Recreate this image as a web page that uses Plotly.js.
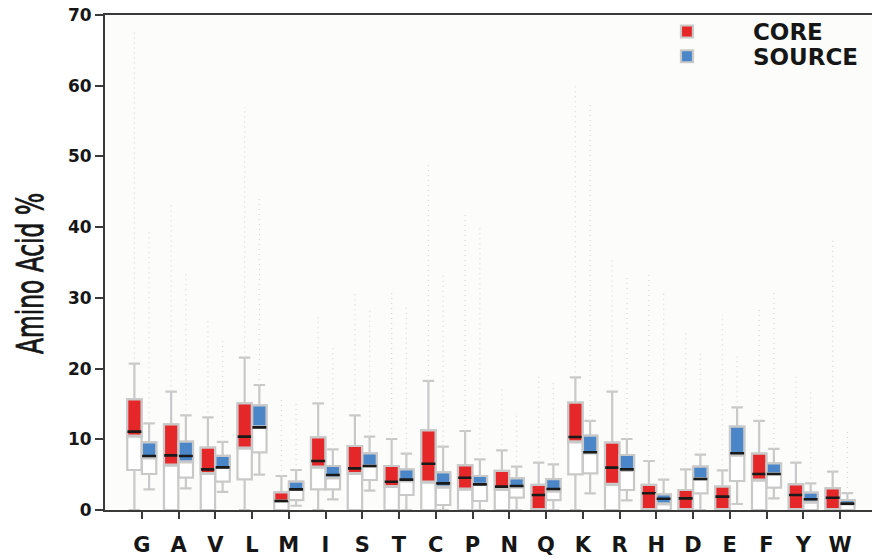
<!DOCTYPE html>
<html>
<head>
<meta charset="utf-8">
<script src="https://cdn.plot.ly/plotly-3.0.1.min.js"></script>
<style>html,body{margin:0;padding:0;background:#fff;}#chart{width:872px;height:559px;}</style>
</head>
<body>
<div id="chart"></div>
<script>
// ---- data (Amino Acid %) ----
const categories = ['G','A','V','L','M','I','S','T','C','P','N','Q','K','R','H','D','E','F','Y','W'];

// CORE series
const coreLowerFence = [0,0,0,0,0,0,0,0,0,0,0,0,0,0,0,0,0,0,0,0];
const coreQ1        = [5.66,0,0,4.34,0,2.92,0,0,0,0,0,0,5.04,0,0,0,0,0,0,0];
const coreFillLow   = [10.37,6.27,5.09,8.67,1.18,5.99,5.09,3.25,3.87,2.88,2.83,0,9.57,3.54,0,0,0,4.15,0,0];
const coreMedian    = [11.08,7.73,5.75,10.37,1.27,6.93,5.89,4.0,6.55,4.57,3.3,2.12,10.33,5.99,2.36,1.65,1.89,5.09,2.12,1.74];
const coreQ3        = [15.65,12.12,8.82,15.09,2.5,10.28,9.05,6.22,11.27,6.32,5.52,3.54,15.18,9.52,3.54,2.83,3.3,7.97,3.63,3.06];
const coreUpperFence= [20.7,16.74,13.1,21.55,4.81,15.09,13.39,10.04,18.25,11.17,8.44,6.69,18.76,16.74,6.93,5.75,5.61,12.59,6.69,5.42];
const coreMax       = [68,43.4,27,57,16,27.3,30.8,30.8,48.8,42.2,17.4,19.4,59.9,35.8,33.4,25.1,27.6,28.7,19.4,38.5];

// SOURCE series
const srcLowerFence = [2.92,3.06,2.55,5.0,0.6,1.5,2.73,0,0,0,0,0,2.36,1.37,0,0,0.85,1.65,0,0];
const srcQ1         = [5.09,4.57,4.0,8.16,1.41,2.92,4.24,2.12,0.71,1.27,1.74,1.41,5.19,2.83,0,2.36,4.1,3.16,0,0];
const srcFillLow    = [7.31,6.74,5.94,11.69,2.83,4.48,6.13,4.05,3.16,3.54,3.16,2.59,8.02,5.52,0.8,4.34,7.69,5.04,1.04,0.8];
const srcMedian     = [7.64,7.64,6.03,11.69,2.92,4.95,6.22,4.29,3.77,3.63,3.39,2.97,8.16,5.75,1.6,4.38,8.02,5.09,1.51,0.9];
const srcQ3         = [9.57,9.67,7.64,14.8,4.0,6.22,8.02,5.75,5.33,4.81,4.48,4.38,10.51,7.78,2.22,6.13,11.79,6.6,2.45,1.41];
const srcUpperFence = [12.26,13.39,9.62,17.68,5.66,8.58,10.37,7.97,8.96,7.17,6.13,6.46,12.59,10.04,4.29,7.83,14.52,8.63,3.77,2.4];
const srcMax        = [39.3,33.4,24,44.5,15,23.2,28.7,28.7,33.4,40,13.7,18,57.3,33.4,30.8,22.2,21.7,30.8,17,11.3];

// ---- styling ----
const RED = '#e5272a', BLUE = '#4a86c8', EDGE = '#c9c9c9';
const OFFSET = 0.2, BOXW = 0.39;

function seriesTraces(name, legendId, color, off, lf, q1, fl, med, q3, uf, mx) {
  const xs = categories.map((c, i) => i + off);
  // faint outlier columns (from upper fence to the highest outlier)
  const ox = [], oy = [];
  xs.forEach((x, i) => { ox.push(x, x, null); oy.push(uf[i], mx[i], null); });
  return [
    {type:'scatter', mode:'lines', x:ox, y:oy, showlegend:false, hoverinfo:'skip',
     line:{color:'#dadada', width:1.3, dash:'1px,4px'}},
    {type:'box', orientation:'v', x:xs, q1:q1, median:med, q3:q3, lowerfence:lf, upperfence:uf,
     width:BOXW, whiskerwidth:0.8, fillcolor:'#ffffff', line:{color:EDGE, width:2.2},
     showlegend:false, hoverinfo:'skip', boxpoints:false},
    {type:'box', orientation:'v', name:name, legend:legendId, x:xs, q1:fl, median:fl, q3:q3, lowerfence:fl, upperfence:q3,
     width:BOXW, whiskerwidth:0.8, fillcolor:color, line:{color:EDGE, width:2.2},
     showlegend:true, hoverinfo:'skip', boxpoints:false},
    {type:'box', orientation:'v', x:xs, q1:med, median:med, q3:med, lowerfence:med, upperfence:med,
     width:BOXW*0.97, whiskerwidth:0, fillcolor:'rgba(0,0,0,0)', line:{color:'#1a1a1a', width:2.6},
     showlegend:false, hoverinfo:'skip', boxpoints:false}
  ];
}

const traces = [].concat(
  seriesTraces('CORE', 'legend', RED, -OFFSET, coreLowerFence, coreQ1, coreFillLow, coreMedian, coreQ3, coreUpperFence, coreMax),
  seriesTraces('SOURCE', 'legend2', BLUE, OFFSET, srcLowerFence, srcQ1, srcFillLow, srcMedian, srcQ3, srcUpperFence, srcMax)
);
const ordered = traces.filter(t => t.type === 'scatter').concat(traces.filter(t => t.type === 'box'));

const legendFont = {family:'DejaVu Sans', size:23, color:'#161616', weight:'bold'};
const layout = {
  width: 872, height: 559,
  margin: {l:105, r:0, t:15, b:49, pad:0},
  paper_bgcolor:'#ffffff', plot_bgcolor:'#fcfcfb',
  boxmode:'overlay',
  showlegend:true,
  legend:{x:0.6727, y:1.01, xanchor:'left', yanchor:'top', bgcolor:'rgba(0,0,0,0)',
          itemwidth:122, font:legendFont},
  legend2:{x:0.6727, y:0.960, xanchor:'left', yanchor:'top', bgcolor:'rgba(0,0,0,0)',
          itemwidth:122, font:legendFont},
  xaxis:{type:'linear', range:[-1, 19.87], tickmode:'array',
         tickvals:categories.map((c, i) => i), ticktext:categories,
         showline:true, linecolor:'#3a3a3a', linewidth:2, mirror:true,
         ticks:'outside', ticklen:7, tickwidth:2, tickcolor:'#3a3a3a',
         ticklabelstandoff:8,
         showgrid:false, zeroline:false,
         tickfont:{family:'DejaVu Sans', size:21, color:'#161616', weight:'bold'}},
  yaxis:{range:[0,70], tick0:0, dtick:10,
         showline:true, linecolor:'#3a3a3a', linewidth:2,
         ticks:'outside', ticklen:8, tickwidth:2, tickcolor:'#3a3a3a',
         showgrid:false, zeroline:false,
         tickfont:{family:'DejaVu Sans', size:17, color:'#161616', weight:'bold'},
         title:{text:'Amino Acid %', standoff:14,
                font:{family:'Liberation Sans Narrow, DejaVu Sans Condensed, sans-serif', size:26, color:'#161616'}}}
};

Plotly.newPlot('chart', ordered, layout, {staticPlot:true, displayModeBar:false}).then(function (gd) {
  // tall, narrow lettering of the original axis title
  const t = gd.querySelector('.g-ytitle text');
  if (t) {
    t.style.stroke = '#161616';
    t.style.strokeWidth = '0.6px';
    const r = t.getBoundingClientRect();
    const s = gd.getBoundingClientRect();
    const R = r.right - s.left;
    const old = t.getAttribute('transform') || '';
    t.setAttribute('transform', 'translate(' + R + ',11) scale(1.4,1) translate(' + (-R) + ',0) ' + old);
  }
});
</script>
</body>
</html>
